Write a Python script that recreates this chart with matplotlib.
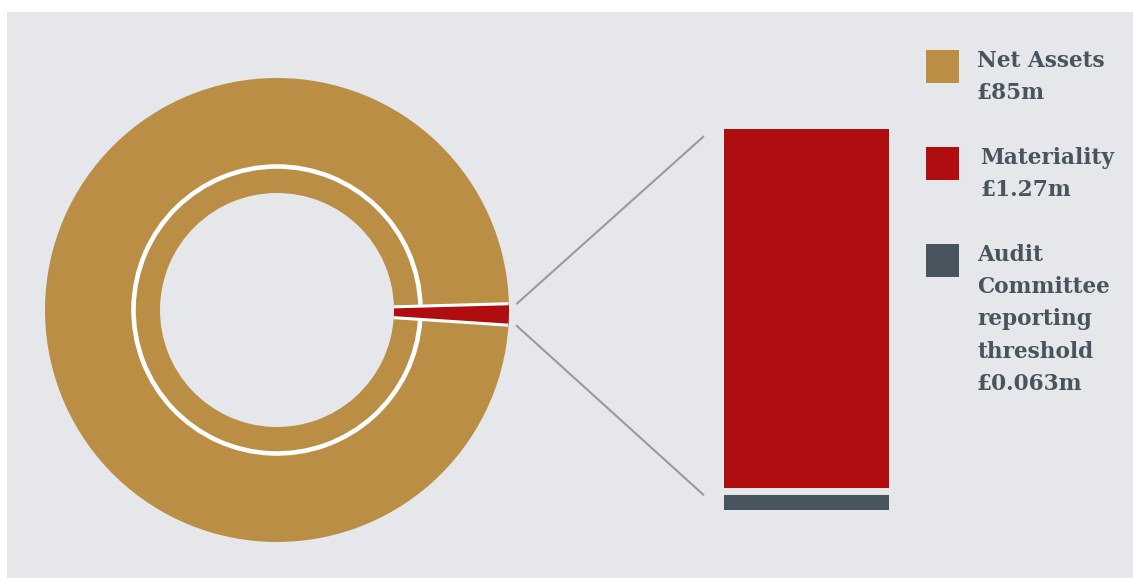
import numpy as np
import matplotlib.pyplot as plt
from matplotlib.patches import Rectangle, Arc, ConnectionPatch

# values (GBP millions)
labels = ['Net Assets\n£85m', 'Materiality\n£1.27m',
          'Audit\nCommittee\nreporting\nthreshold\n£0.063m']
net_assets = 85
materiality = 1.27
threshold = 0.063

gold = '#BA8F45'
red = '#B00D10'
slate = '#48555E'
bg = '#E6E7EA'
txt = '#48555E'

W, H = 1133, 578
fig = plt.figure(figsize=(W / 100, H / 100), dpi=100)
fig.patch.set_facecolor('white')
fig.patches.append(Rectangle((7 / W, 0), 1, (H - 12) / H, transform=fig.transFigure,
                             facecolor=bg, edgecolor='none', zorder=-10))

def px_axes(x0, y0, x1, y1):
    # pixel box (top-left origin) -> figure axes
    return fig.add_axes([x0 / W, 1 - y1 / H, (x1 - x0) / W, (y1 - y0) / H])

# donut
R = 232
cx, cy = 277, 310
ax = px_axes(cx - 1.1 * R, cy - 1.1 * R, cx + 1.1 * R, cy + 1.1 * R)

vals = [materiality, net_assets]
frac = materiality / sum(vals) * 360
start = -1.1 - frac / 2
inner = 117 / R
wedges, _ = ax.pie(vals, colors=[red, gold], radius=1, startangle=start,
                   wedgeprops=dict(width=1 - inner, edgecolor='none', linewidth=0))
t1, t2 = wedges[0].theta1, wedges[0].theta2
ax.set_xlim(-1.1, 1.1)
ax.set_ylim(-1.1, 1.1)
ax.set_aspect('equal')
ax.axis('off')

# white separators
for t in (t1, t2):
    a = np.deg2rad(t)
    ax.plot([inner * np.cos(a), 0.998 * np.cos(a)],
            [inner * np.sin(a), 0.998 * np.sin(a)],
            color='white', lw=2.2, solid_capstyle='butt')
rr = 143.5 / R
ax.add_patch(Arc((0, 0), 2 * rr, 2 * rr, theta1=t2, theta2=t1 + 360,
                 color='white', lw=3.3))

# bar
bax = px_axes(724, 129, 889, 510)
bax.set_xlim(-0.5, 0.5)
bax.set_ylim(0, materiality)
bax.axis('off')
bax.bar(0, threshold, width=1, color=slate)
bax.bar(0, materiality - threshold, bottom=threshold, width=1, color=red)
bax.axhline(threshold, color=bg, lw=5)

# connectors
for t, yb in ((t2, 0.98), (t1, 0.04)):
    a = np.deg2rad(t)
    con = ConnectionPatch(xyA=(1.035 * np.cos(a), 1.035 * np.sin(a)), coordsA=ax.transData,
                          xyB=(-0.125, yb), coordsB=bax.transAxes,
                          color='#9A9A9A', lw=1.5)
    fig.add_artist(con)

# legend
boxes = [(50, gold, 977), (147, red, 980), (244, slate, 977)]
for (top, c, tx), lab in zip(boxes, labels):
    fig.patches.append(Rectangle((926 / W, 1 - (top + 33) / H), 33 / W, 33 / H,
                                 transform=fig.transFigure, facecolor=c, edgecolor='none'))
    fig.text(tx / W, 1 - top / H, lab, ha='left', va='top', fontsize=15.6,
             fontweight='bold', family='DejaVu Serif', color=txt, linespacing=1.6)

fig.savefig('out.png', dpi=100)
